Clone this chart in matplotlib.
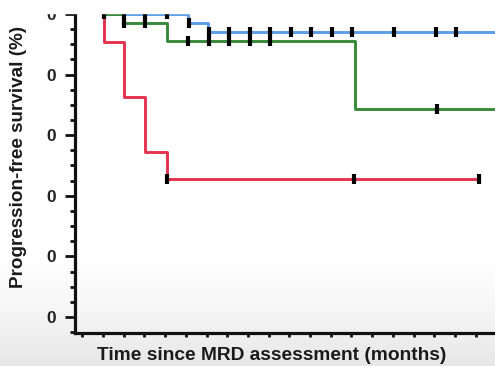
import numpy as np
import matplotlib.pyplot as plt
from matplotlib.patches import Rectangle

plt.rcParams['font.family'] = ['Liberation Sans', 'DejaVu Sans']

# Kaplan-Meier steps: event times (months) and survival level after each step (%)
red_times = [0.15, 3.1, 6.1, 9.2]
red_surv = [100, 90.9, 72.7, 54.5, 45.5]
red_end = 54.5
red_censor = [9.3, 36.4, 54.5]

blue_times = [12.3, 15.2]
blue_surv = [100, 97.0, 94.0]
blue_end = 60
blue_censor = [0.2, 3.1, 6.1, 9.3, 12.4, 15.3, 18.3, 21.3, 24.2, 27.2,
               30.2, 33.2, 36.1, 42.2, 48.3, 51.2]

green_times = [2.9, 9.2, 36.5]
green_surv = [100, 97.0, 91.0, 68.5]
green_end = 60
green_censor = [3.1, 6.1, 12.3, 15.3, 18.3, 21.3, 24.2, 48.4]

x_ticks = np.arange(-3, 57, 3)
y_major = [0, 20, 40, 60, 80, 100]
y_labels = ['0', '0', '0', '0', '0', '0']


def km_steps(times, surv, end):
    x = [0] + list(times) + [end]
    y = list(surv) + [surv[-1]]
    return x, y


def level_at(times, surv, t):
    return surv[np.searchsorted(times, t, side='right')]


fig = plt.figure(figsize=(4.95, 3.66), dpi=100)

# soft grey fade at the bottom of the slide
bg = fig.add_axes([0, 0, 1, 1], zorder=-1)
rows = np.linspace(0, 1, 366)
shade = np.where(rows < 0.66, 1.0, 1.0 - 0.1 * ((rows - 0.66) / 0.34) ** 1.5)
bg.imshow(shade[:, None], aspect='auto', cmap='gray', vmin=0, vmax=1,
          extent=[0, 1, 0, 1])
bg.axis('off')

ax = fig.add_axes([75 / 495, 33 / 366, 1 - 75 / 495, 320.5 / 366])
ax.set_facecolor('none')

series = [
    (blue_times, blue_surv, blue_end, blue_censor, '#5b9de8'),
    (green_times, green_surv, green_end, green_censor, '#37893a'),
    (red_times, red_surv, red_end, red_censor, '#e5334f'),
]
for times, surv, end, censor, color in series:
    x, y = km_steps(times, surv, end)
    ax.plot(x, y, drawstyle='steps-post', color=color, lw=2.1, zorder=2)
    cy = [level_at(times, surv, t) for t in censor]
    ax.plot(censor, cy, ls='none', marker='|', color='black', ms=7,
            mew=3.0, zorder=3)

ax.set_xlim(-4.06, 56.8)
ax.set_ylim(-5.3, 100.5)

for side in ['top', 'right']:
    ax.spines[side].set_visible(False)
for side in ['left', 'bottom']:
    ax.spines[side].set_linewidth(2.3)
    ax.spines[side].set_color('#111111')

ax.set_xticks(x_ticks)
ax.set_xticklabels([])
ax.tick_params(axis='x', length=3, width=2, color='#111111')

ax.set_yticks(y_major)
ax.set_yticklabels(y_labels, fontsize=12.5, fontweight='bold', color='#222222')
ax.set_yticks(np.arange(-5, 101, 5), minor=True)
ax.tick_params(axis='y', which='major', length=7.5, width=2, pad=6,
               color='#111111')
ax.tick_params(axis='y', which='minor', length=3.8, width=2, color='#111111')

fig.text(272 / 495, 1 - 356 / 366, 'Time since MRD assessment (months)',
         ha='center', va='center', fontsize=13.8, fontweight='bold',
         color='#1a1a1a')
fig.text(19 / 495, 1 - 157 / 366, 'Progression-free survival (%)',
         ha='center', va='center', rotation=90, fontsize=13.6,
         fontweight='bold', color='#1a1a1a')

# top strip of the slide hides the upper edge of the chart
fig.add_artist(Rectangle((0, 1 - 12.5 / 366), 1, 12.5 / 366,
                         transform=fig.transFigure, color='white', zorder=10))

fig.savefig('out.png', dpi=100)
